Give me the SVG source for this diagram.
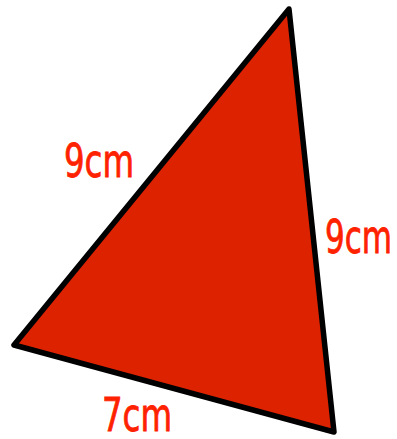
<svg xmlns="http://www.w3.org/2000/svg" width="397" height="439" viewBox="0 0 397 439">
<style>
.lbl{font-family:"DejaVu Sans Condensed","DejaVu Sans",sans-serif;font-size:46px;fill:#ff2200;stroke:#ff2200;stroke-width:0.8}
</style>
<g id="triangle">
<polygon points="289,9 14,345 334,432" fill="#dd2200" stroke="#000" stroke-width="5.5" stroke-linejoin="round"/>
</g>
<g id="labels">
<text class="lbl" x="64" y="177" textLength="70" lengthAdjust="spacingAndGlyphs">9cm</text>
<text class="lbl" x="325" y="253" textLength="67" lengthAdjust="spacingAndGlyphs">9cm</text>
<text class="lbl" x="102" y="431" textLength="70" lengthAdjust="spacingAndGlyphs">7cm</text>
</g>
</svg>
